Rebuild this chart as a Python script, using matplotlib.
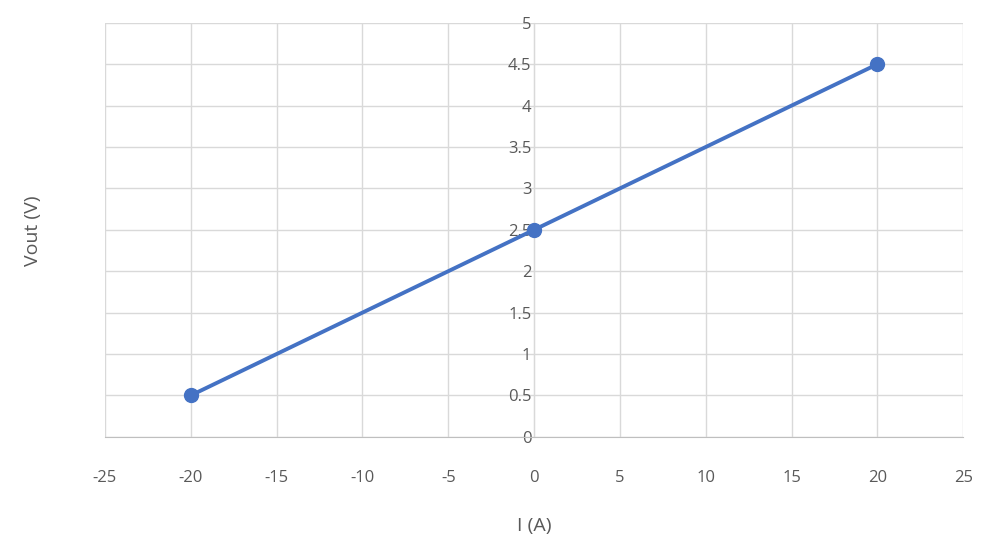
import matplotlib
matplotlib.use("Agg")
import matplotlib.pyplot as plt

current = [-20, 0, 20]
vout = [0.5, 2.5, 4.5]
xticks = [-25, -20, -15, -10, -5, 0, 5, 10, 15, 20, 25]
yticks = [0, 0.5, 1, 1.5, 2, 2.5, 3, 3.5, 4, 4.5, 5]

plt.rcParams['font.family'] = ['Open Sans', 'DejaVu Sans']
fig = plt.figure(figsize=(9.9, 5.42), dpi=100)
ax = fig.add_axes([0.106, 0.194, 0.867, 0.764])
ax.set_xlim(-25, 25)
ax.set_ylim(0, 5)
ax.set_xticks(xticks)
ax.set_yticks(yticks)
ax.set_xticklabels([str(v) for v in xticks])
ax.set_yticklabels([f"{v:g}" for v in yticks])
ax.grid(True, color='#d9d9d9', linewidth=1)
ax.set_axisbelow(True)
for s in ['top', 'right']:
    ax.spines[s].set_visible(False)
ax.spines['left'].set_position(('data', 0))
ax.spines['left'].set_color('#d9d9d9')
ax.spines['bottom'].set_color('#bfbfbf')
ax.tick_params(length=0, labelsize=12, colors='#595959')
ax.tick_params(axis='x', pad=24)
ax.tick_params(axis='y', pad=2)
ax.plot(current, vout, color='#4472C4', linewidth=2.8, marker='o', markersize=10, zorder=3)
ax.set_xlabel('I (A)', fontsize=14, color='#595959', labelpad=22)
fig.text(0.033, 0.575, 'Vout (V)', rotation=90, fontsize=14, color='#595959', va='center', ha='center')
fig.savefig('out.png', dpi=100)
